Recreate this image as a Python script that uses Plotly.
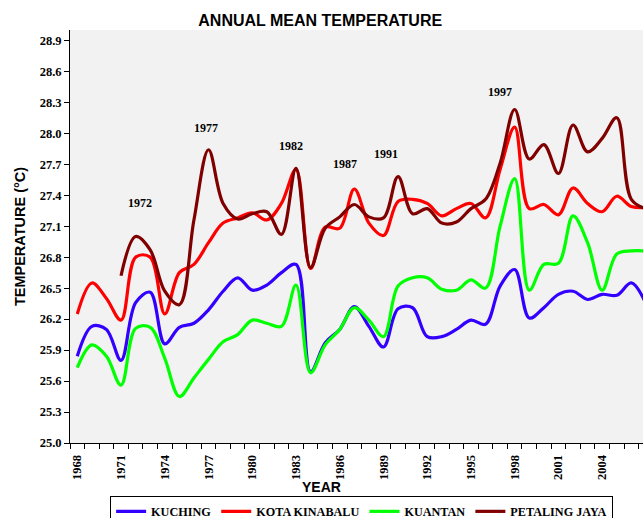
import plotly.graph_objects as go

years = list(range(1968, 2008))

kuching = [25.84, 26.13, 26.10, 25.80, 26.36, 26.46, 25.96, 26.12, 26.16, 26.29,
           26.47, 26.60, 26.48, 26.53, 26.65, 26.73, 25.69, 25.97, 26.10, 26.32,
           26.13, 25.93, 26.30, 26.31, 26.03, 26.03, 26.10, 26.19, 26.15, 26.52,
           26.68, 26.21, 26.31, 26.44, 26.47, 26.39, 26.44, 26.43, 26.55, 26.35]

kota_kinabalu = [26.25, 26.55, 26.40, 26.19, 26.80, 26.80, 26.25, 26.65, 26.73, 26.94,
                 27.13, 27.18, 27.23, 27.16, 27.32, 27.65, 26.69, 27.09, 27.08, 27.46,
                 27.13, 27.01, 27.34, 27.36, 27.32, 27.20, 27.27, 27.32, 27.18, 27.65,
                 28.06, 27.27, 27.31, 27.21, 27.47, 27.32, 27.24, 27.39, 27.29, 27.28]

kuantan = [25.73, 25.95, 25.84, 25.56, 26.11, 26.12, 25.82, 25.45, 25.63, 25.81,
           25.98, 26.05, 26.19, 26.16, 26.13, 26.53, 25.68, 25.95, 26.10, 26.31,
           26.19, 26.03, 26.52, 26.60, 26.60, 26.49, 26.48, 26.58, 26.50, 27.10,
           27.56, 26.48, 26.73, 26.74, 27.20, 26.94, 26.48, 26.83, 26.86, 26.86]

petaling_jaya = [None, None, None, 26.62, 27.00, 26.87, 26.47, 26.34, 27.16, 27.84,
                 27.32, 27.17, 27.22, 27.24, 27.02, 27.66, 26.70, 27.08, 27.19, 27.31,
                 27.19, 27.18, 27.58, 27.22, 27.27, 27.13, 27.14, 27.27, 27.36, 27.71,
                 28.23, 27.75, 27.89, 27.61, 28.08, 27.82, 27.95, 28.15, 27.36, 27.27]

series_names = ["KUCHING", "KOTA KINABALU", "KUANTAN", "PETALING JAYA"]
series_values = [kuching, kota_kinabalu, kuantan, petaling_jaya]
series_colors = ["#3300FF", "#FF0000", "#00FF00", "#800000"]

x_tick_years = list(range(1968, 2008, 3))
y_ticks = [25.0, 25.3, 25.6, 25.9, 26.2, 26.5, 26.8, 27.1, 27.4, 27.7, 28.0, 28.3, 28.6, 28.9]

event_labels = ["1972", "1977", "1982", "1987", "1991", "1997"]
event_x = [1972.3, 1976.8, 1982.65, 1986.35, 1989.2, 1997.0]
event_y = [27.32, 28.05, 27.88, 27.70, 27.80, 28.40]

serif_bold = dict(family="Liberation Serif", size=12.5, color="black", weight="bold")
sans_bold = dict(family="Liberation Sans", color="black", weight="bold")

fig = go.Figure()
for name, vals, col in zip(series_names, series_values, series_colors):
    fig.add_trace(go.Scatter(
        x=years, y=vals, name=name, mode="lines",
        line=dict(color=col, width=3.2, shape="spline", smoothing=1.0),
        connectgaps=False,
    ))

annotations = []
for t, ax_, ay_ in zip(event_labels, event_x, event_y):
    annotations.append(dict(x=ax_, y=ay_, xref="x", yref="y", text=t, showarrow=False,
                            font=dict(family="Liberation Serif", size=12, color="black", weight="bold")))
annotations.append(dict(x=(321.5 - 70) / 573, y=-0.107, xref="paper", yref="paper", text="YEAR",
                        showarrow=False, yanchor="middle", xanchor="center",
                        font=dict(sans_bold, size=14)))

fig.update_layout(
    width=643, height=518,
    margin=dict(l=70, r=0, t=30, b=75, autoexpand=False),
    paper_bgcolor="white",
    plot_bgcolor="#F2F2F2",
    title=dict(text="ANNUAL MEAN TEMPERATURE", x=0.498, xref="container", xanchor="center",
               y=1 - 20 / 518, yref="container", yanchor="middle",
               font=dict(sans_bold, size=16)),
    xaxis=dict(
        range=[1967.5, 1967.5 + 573 / 14.58],
        tickmode="array", tickvals=x_tick_years, ticktext=[str(y) for y in x_tick_years],
        tickangle=-90, tickfont=serif_bold,
        ticks="outside", ticklen=6, tickcolor="rgba(0,0,0,0)",
        minor=dict(tickmode="array", tickvals=[y - 0.5 for y in years] + [years[-1] + 0.5],
                   ticks="outside", ticklen=5, tickcolor="black", tickwidth=1, showgrid=False),
        showline=True, linecolor="black", linewidth=1,
        showgrid=False, zeroline=False,
    ),
    yaxis=dict(
        range=[25.0, 29.0],
        tickmode="array", tickvals=y_ticks, ticktext=[f"{v:.1f}" for v in y_ticks],
        tickfont=serif_bold,
        ticks="outside", ticklen=5, tickcolor="black",
        showline=True, linecolor="black", linewidth=1,
        showgrid=False, zeroline=False,
        title=dict(text="TEMPERATURE (°C)", font=dict(sans_bold, size=14.5), standoff=10),
    ),
    legend=dict(
        orientation="h", x=0.07, y=-0.128, xanchor="left", yanchor="top",
        bordercolor="black", borderwidth=1, bgcolor="white",
        font=dict(serif_bold, size=12.2), itemwidth=30, traceorder="normal",
    ),
    annotations=annotations,
    showlegend=True,
)

fig.write_html("out.html", config={"displayModeBar": False},
               post_script="document.body.style.margin='0';document.body.style.overflow='hidden';")
